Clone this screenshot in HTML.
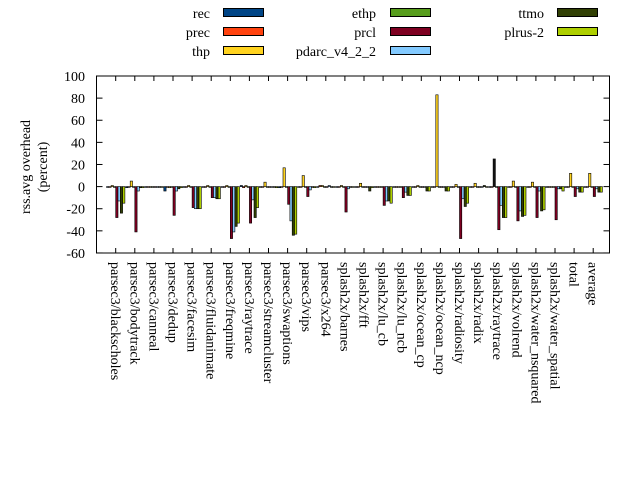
<!DOCTYPE html>
<html><head><meta charset="utf-8"><style>
body{margin:0;background:#fff}
svg{display:block;font-family:"Liberation Serif",serif;font-size:14px}
</style></head><body>
<svg id="s" width="640" height="480" viewBox="0 0 640 480" xmlns="http://www.w3.org/2000/svg">
<g id="legend">
<text x="210" y="18" text-anchor="end">rec</text><rect x="223.5" y="8.5" width="40" height="8" fill="#004586" stroke="#000"/>
<text x="210" y="37" text-anchor="end">prec</text><rect x="223.5" y="27.5" width="40" height="8" fill="#ff420e" stroke="#000"/>
<text x="210" y="56" text-anchor="end">thp</text><rect x="223.5" y="46.5" width="40" height="8" fill="#ffd320" stroke="#000"/>
<text x="376" y="18" text-anchor="end">ethp</text><rect x="390.5" y="8.5" width="40" height="8" fill="#579d1c" stroke="#000"/>
<text x="376" y="37" text-anchor="end">prcl</text><rect x="390.5" y="27.5" width="40" height="8" fill="#7e0021" stroke="#000"/>
<text x="376" y="56" text-anchor="end">pdarc_v4_2_2</text><rect x="390.5" y="46.5" width="40" height="8" fill="#83caff" stroke="#000"/>
<text x="544" y="18" text-anchor="end">ttmo</text><rect x="557.5" y="8.5" width="40" height="8" fill="#314004" stroke="#000"/>
<text x="544" y="37" text-anchor="end">plrus-2</text><rect x="557.5" y="27.5" width="40" height="8" fill="#aecf00" stroke="#000"/>
</g>
<text transform="translate(30,167) rotate(-90)" text-anchor="middle">rss.avg overhead</text>
<text transform="translate(47,167) rotate(-90)" text-anchor="middle">(percent)</text>
<g id="plot"></g>
</svg>
<script>
var ns="http://www.w3.org/2000/svg",g=document.getElementById("plot");
function el(t,a,txt){var e=document.createElementNS(ns,t);for(var k in a)e.setAttribute(k,a[k]);if(txt)e.textContent=txt;g.appendChild(e);return e;}
var L=96.5,R=609.5,T=76,B=253;function Y(v){return 186.6-v*1.106;}
var cols=["#004586","#ff420e","#ffd320","#579d1c","#7e0021","#83caff","#314004","#aecf00"];
var names=["parsec3/blackscholes","parsec3/bodytrack","parsec3/canneal","parsec3/dedup","parsec3/facesim","parsec3/fluidanimate","parsec3/freqmine","parsec3/raytrace","parsec3/streamcluster","parsec3/swaptions","parsec3/vips","parsec3/x264","splash2x/barnes","splash2x/fft","splash2x/lu_cb","splash2x/lu_ncb","splash2x/ocean_cp","splash2x/ocean_ncp","splash2x/radiosity","splash2x/radix","splash2x/raytrace","splash2x/volrend","splash2x/water_nsquared","splash2x/water_spatial","total","average"];
var d=[
[0,0,1,0,-28,-13,-24,-15],[-1,0,5,0,-41,-4,-1,-1],[0,0,0,0,0,0,0,0],[-4,0,-1,0,-26,-4,-2,-1],
[0,0,1,0,-19,-20,-20,-20],[0,0,1,0,-10,-10,-11,-11],[0,0,1,0,-47,-41,-36,-33],[1,-1,1,0,-33,-12,-28,-19],
[0,0,4,0,0,0,0,-1],[-1,0,17,0,-16,-31,-44,-43],[0,0,10,0,-9,-3,0,-1],[0,1,1,0,0,1,0,0],
[0,0,1,0,-23,-2,0,0],[0,0,3,0,0,0,-4,-1],[0,0,0,0,-17,-13,-13,-15],[0,0,0,0,-10,-5,-8,-8],
[0,0,1,0,0,0,-4,-4],[0,0,83,0,0,0,-4,-4],[0,0,2,0,-47,-11,-18,-15],[0,0,3,0,0,0,1,0],
[0,0,25,0,-39,-17,-28,-28],[0,0,5,0,-31,-22,-27,-26],[0,0,4,0,-28,-4,-22,-21],[0,0,0,0,-30,-2,-2,-4],
[0,0,12,0,-9,-2,-5,-5],[0,0,12,0,-9,-2,-5,-5]];
for(var i=0;i<26;i++){var c=115.7+i*19.1;
 for(var j=0;j<8;j++){var v=d[i][j];var x=c-9.2+j*2.3;var y0=Y(0),y1=Y(v);
  var fc=cols[j];if(i==20&&j==2)fc="#111";
  el("rect",{x:x,y:Math.min(y0,y1),width:2.3,height:Math.max(Math.abs(y1-y0),0.8),fill:fc,stroke:"#000","stroke-width":0.6});}
 el("line",{x1:c,x2:c,y1:B,y2:B-5,stroke:"#000"});el("line",{x1:c,x2:c,y1:T,y2:T+5,stroke:"#000"});
 el("text",{transform:"translate("+(c-4.5)+",262) rotate(90)"},names[i]);}
for(var v=-60;v<=100;v+=20){var y=Y(v);
 el("line",{x1:L,x2:L+6,y1:y,y2:y,stroke:"#000"});el("line",{x1:R-6,x2:R,y1:y,y2:y,stroke:"#000"});
 el("text",{x:85,y:y+5,"text-anchor":"end"},String(v));}
el("rect",{x:L,y:T,width:R-L,height:B-T,fill:"none",stroke:"#000"});
</script>
</body></html>
